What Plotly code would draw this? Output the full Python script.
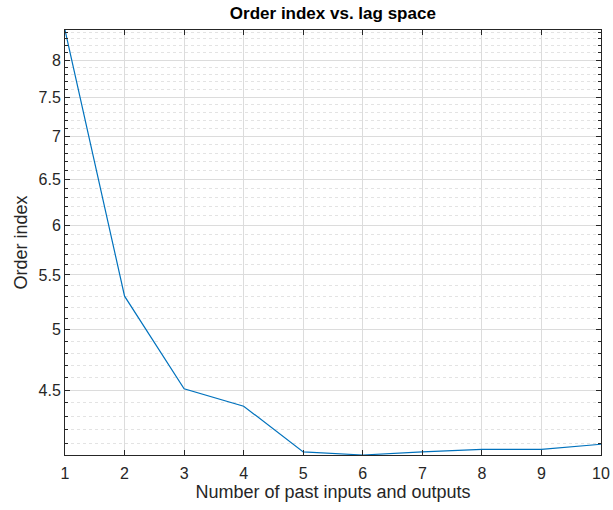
import plotly.graph_objects as go
import numpy as np

lags = [1, 2, 3, 4, 5, 6, 7, 8, 9, 10]
order_index = [8.43, 5.30, 4.51, 4.375, 4.04, 4.018, 4.04, 4.058, 4.058, 4.094]
y_ticks = [4.5, 5, 5.5, 6, 6.5, 7, 7.5, 8]
y_tick_text = ["4.5", "5", "5.5", "6", "6.5", "7", "7.5", "8"]
y_minor = [round(v, 1) for v in np.arange(4.1, 8.45, 0.1) if round(v, 1) not in y_ticks]

fig = go.Figure()
fig.add_trace(go.Scatter(x=lags, y=order_index, mode="lines",
                         line=dict(color="#0072BD", width=1.2)))

fam = "Liberation Sans, Arial, sans-serif"
tick_font = dict(family=fam, size=16, color="#262626")
title_font = dict(family=fam, size=18, color="#262626")
fig.update_layout(
    width=613, height=510,
    margin=dict(l=65, r=12, t=30, b=55),
    paper_bgcolor="white", plot_bgcolor="white",
    showlegend=False,
    title=dict(text="<b>Order index vs. lag space</b>", x=0.543, xanchor="center",
               y=0.975, yanchor="middle",
               font=dict(family=fam, size=17, color="black")),
    xaxis=dict(range=[1, 10], tickmode="array", tickvals=lags, ticktext=[str(v) for v in lags],
               showgrid=True, gridcolor="#dcdcdc", gridwidth=1, automargin=False,
               showline=True, linecolor="#262626", linewidth=1, mirror="ticks",
               ticks="inside", ticklen=5, tickcolor="#262626", ticklabelstandoff=4,
               tickfont=tick_font, zeroline=False,
               title=dict(text="Number of past inputs and outputs", font=title_font, standoff=2)),
    yaxis=dict(type="log", range=[np.log10(4.018), np.log10(8.43)], automargin=False,
               tickmode="array", tickvals=y_ticks, ticktext=y_tick_text,
               showgrid=True, gridcolor="#dcdcdc", gridwidth=1,
               showline=True, linecolor="#262626", linewidth=1, mirror="ticks",
               ticks="inside", ticklen=5, tickcolor="#262626",
               tickfont=tick_font, zeroline=False,
               minor=dict(tickmode="array", tickvals=y_minor, showgrid=True,
                          gridcolor="#e3e3e3", griddash="dot", gridwidth=1,
                          ticks="inside", ticklen=3, tickcolor="#262626"),
               title=dict(text="Order index", font=title_font, standoff=6)),
)
fig.write_html("out.html")
